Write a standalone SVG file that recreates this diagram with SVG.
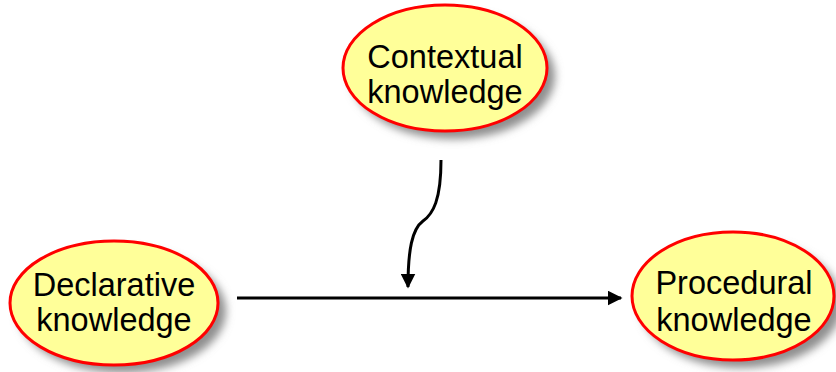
<svg xmlns="http://www.w3.org/2000/svg" width="836" height="372" viewBox="0 0 836 372">
<style>
.node ellipse.body{fill:#FFFF99;stroke:#FF0000;stroke-width:3}
.node ellipse.shadow{fill:#8f8f8f;filter:url(#blur)}
.node text{font-family:"Liberation Sans",Arial,sans-serif;font-size:32.5px;fill:#000;text-anchor:middle}
.conn{fill:none;stroke:#000;stroke-width:3;marker-end:url(#arrow)}
</style>
<defs>
<filter id="blur" x="-20%" y="-20%" width="140%" height="140%"><feGaussianBlur stdDeviation="4"/></filter>
<marker id="arrow" viewBox="0 0 10 10" refX="9" refY="5" markerWidth="5" markerHeight="5" orient="auto" markerUnits="strokeWidth">
<path d="M0,0 L10,5 L0,10 z" fill="#000"/>
</marker>
</defs>
<rect width="836" height="372" fill="#fff"/>
<g id="connectors">
<path class="conn" d="M237,298 L621,298"/>
<path class="conn" d="M441,160 C441,200 433,214 423,221 C412,229 408,250 408,287"/>
</g>
<g id="contextual" class="node">
<ellipse class="shadow" cx="453" cy="76" rx="102" ry="63"/>
<ellipse class="body" cx="445" cy="68" rx="102" ry="63"/>
<text x="445" y="68">Contextual</text>
<text x="445" y="103">knowledge</text>
</g>
<g id="declarative" class="node">
<ellipse class="shadow" cx="122" cy="311" rx="104" ry="62"/>
<ellipse class="body" cx="114" cy="303" rx="104" ry="62"/>
<text x="114" y="296">Declarative</text>
<text x="114" y="331">knowledge</text>
</g>
<g id="procedural" class="node">
<ellipse class="shadow" cx="741" cy="304" rx="101" ry="64"/>
<ellipse class="body" cx="733" cy="296" rx="101" ry="64"/>
<text x="734" y="294">Procedural</text>
<text x="734" y="331">knowledge</text>
</g>
</svg>
